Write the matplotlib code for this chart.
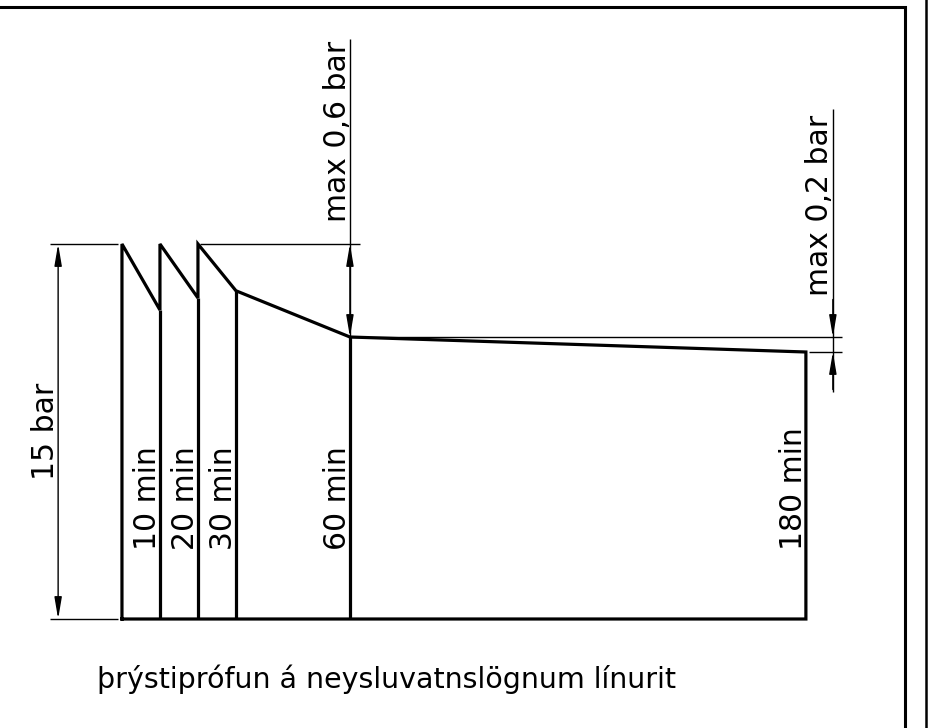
import matplotlib.pyplot as plt

# pressure test chart, values in minutes / bar (schematic drawing scale)
refill_times = [0, 10, 20]
peak_pressure = 15.0
drop_times = [10, 20, 30, 60, 180]
drop_pressure = [12.36, 12.84, 13.13, 11.28, 10.68]
time_labels = ["10 min", "20 min", "30 min", "60 min", "180 min"]
title = "þrýstiprófun á neysluvatnslögnum línurit"

plt.rcParams['font.family'] = ['DejaVu Sans']

fig = plt.figure(figsize=(9.29, 7.28), dpi=100)
ax = fig.add_axes([0, 0, 1, 1])
ax.set_xlim(-32.1, 212.4)
ax.set_ylim(-4.36, 24.76)
ax.axis('off')

thick = 2.3
thin = 1.0
fs = 21.5

# pressure outline
xs = [0]
ys = [0]
for i, t in enumerate(refill_times):
    xs += [t, drop_times[i]]
    ys += [peak_pressure, drop_pressure[i]]
xs += drop_times[3:]
ys += drop_pressure[3:]
xs += [drop_times[-1], 0]
ys += [0, 0]
ax.plot(xs, ys, color='black', lw=thick, solid_joinstyle='miter')
ax.vlines(drop_times[:-1], 0, drop_pressure[:-1], color='black', lw=thick)

# time labels
for t, lab in zip(drop_times, time_labels):
    ax.text(t - 1.0, 2.76, lab, rotation=90, rotation_mode='anchor',
            ha='left', va='baseline', fontsize=fs)

arrow = '-|>,head_length=1.3,head_width=0.22'
arrow2 = '<|-|>,head_length=1.3,head_width=0.22'
ap = dict(arrowstyle=arrow, color='black', lw=thin, shrinkA=0, shrinkB=0,
          mutation_scale=10)
ap2 = dict(ap, arrowstyle=arrow2)

# 15 bar dimension
dx = -16.8
ax.hlines([0, peak_pressure], -18.9, -1.0, color='black', lw=thin)
ax.annotate('', xy=(dx, peak_pressure), xytext=(dx, 0), arrowprops=ap2)
ax.text(dx - 1.0, 7.5, "15 bar", rotation=90, rotation_mode='anchor',
        ha='center', va='baseline', fontsize=fs)

# max 0,6 bar dimension
t60 = drop_times[3]
p60 = drop_pressure[3]
ax.hlines(peak_pressure, 20.5, 62.6, color='black', lw=thin)
ax.vlines(t60, p60, 23.2, color='black', lw=thin)
ax.annotate('', xy=(t60, p60), xytext=(t60, peak_pressure), arrowprops=ap2)
ax.text(t60 - 1.0, 19.5, "max 0,6 bar", rotation=90, rotation_mode='anchor',
        ha='center', va='baseline', fontsize=fs)

# max 0,2 bar dimension
d2 = 187.1
p180 = drop_pressure[-1]
ax.hlines(p60, t60, 189.5, color='black', lw=thin)
ax.hlines(p180, 180.7, 189.5, color='black', lw=thin)
ax.vlines(d2, 9.1, 20.4, color='black', lw=thin)
ax.annotate('', xy=(d2, p60), xytext=(d2, p60 + 1.5), arrowprops=ap)
ax.annotate('', xy=(d2, p180), xytext=(d2, p180 - 1.5), arrowprops=ap)
ax.text(d2 - 1.4, 16.55, "max 0,2 bar", rotation=90, rotation_mode='anchor',
        ha='center', va='baseline', fontsize=fs)

# title
ax.text(-6.6, -2.76, title, ha='left', va='baseline', fontsize=20.5)

# drawing frame
ax.plot([0, 0.974, 0.974], [0.990, 0.990, 0], color='black', lw=2.2,
        transform=ax.transAxes, solid_joinstyle='miter', clip_on=False)
ax.plot([0.997, 0.997], [0, 1], color='black', lw=1.8,
        transform=ax.transAxes, clip_on=False)

fig.savefig('out.png', dpi=100, facecolor='white')
